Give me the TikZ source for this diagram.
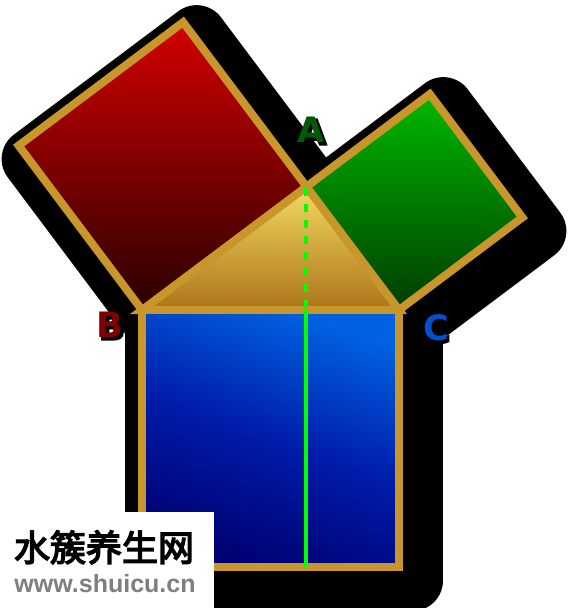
\documentclass[tikz,border=0pt]{standalone}
\usepackage{fontspec}
\setsansfont{DejaVu Sans}
\newfontfamily\glowfont[FakeBold=5]{DejaVu Sans Bold}
\newfontfamily\cjkfont[FakeBold=4]{Noto Sans CJK SC}
\newfontfamily\webfont{Liberation Sans}
\usepackage{tikz}
\usetikzlibrary{calc}
\definecolor{gold}{HTML}{C8962A}
\definecolor{redtop}{HTML}{D40000}
\definecolor{redbot}{HTML}{280000}
\definecolor{greentop}{HTML}{00B800}
\definecolor{greenbot}{HTML}{003C00}
\definecolor{bluetop}{HTML}{0062E0}
\definecolor{bluemid}{HTML}{001CAA}
\definecolor{bluebot}{HTML}{000070}
\definecolor{tritop}{HTML}{F2DA62}
\definecolor{tribot}{HTML}{AC7418}
\definecolor{altgreen}{HTML}{00FF00}
\definecolor{labA}{HTML}{005A00}
\definecolor{labB}{HTML}{800000}
\definecolor{labC}{HTML}{0050D0}
\definecolor{webgray}{HTML}{7F7F7F}
\tikzset{
  frame/.style={draw=gold, line width=8pt, line join=miter},
  blot/.style={fill=black, draw=black, line width=61pt, line join=round},
  altline/.style={draw=altgreen, line width=4pt},
  lab/.style={font=\sffamily\bfseries\fontsize{35}{35}\selectfont},
  glow/.style={font=\glowfont\fontsize{35}{35}\selectfont, text=black}
}

\begin{document}
\begin{tikzpicture}[x=1pt,y=-1pt]
  \fill[white] (0,0) rectangle (568,608);
  \useasboundingbox (0,0) rectangle (568,608);

  \coordinate (B) at (142,310);
  \coordinate (C) at (399,310);
  \coordinate (A) at ($(B)!0.8!36.87:(C)$);

  % outer corners of the three squares
  \coordinate (R1) at ($(B)!1!90:(A)$);
  \coordinate (R2) at ($(A)!1!-90:(B)$);
  \coordinate (G1) at ($(A)!1!90:(C)$);
  \coordinate (G2) at ($(C)!1!-90:(A)$);
  \coordinate (D1) at ($(C)!1!90:(B)$);
  \coordinate (D2) at ($(B)!1!-90:(C)$);
  \coordinate (H) at ($(B)!(A)!(C)$);
  \coordinate (K) at ($(D2)!(A)!(D1)$);

  % shadow
  \begin{scope}[transform canvas={xshift=13.5pt, yshift=-13.5pt}]
    \path[blot] (B)--(R1)--(R2)--(A)--cycle;
    \path[blot] (A)--(G1)--(G2)--(C)--cycle;
    \path[blot] (A)--(B)--(C)--cycle;
    \path[blot] (B)--(C)--(D1)--(D2)--cycle;
  \end{scope}

  \path[top color=tritop, bottom color=tribot] (A)--(B)--(C)--cycle;
  \draw[frame] (A)--(B)--(C)--cycle;

  \path[top color=redtop, bottom color=redbot] (B)--(R1)--(R2)--(A)--cycle;
  \draw[frame] (B)--(R1)--(R2)--(A)--cycle;
  \path[top color=greentop, bottom color=greenbot] (A)--(G1)--(G2)--(C)--cycle;
  \draw[frame] (A)--(G1)--(G2)--(C)--cycle;
  \path[top color=bluetop, bottom color=bluebot, middle color=bluemid, shading angle=-20] (B)--(C)--(D1)--(D2)--cycle;
  \draw[frame] (B)--(C)--(D1)--(D2)--cycle;

  \draw[altline, dash pattern=on 8pt off 8pt] ($(A)+(0,1)$) -- (H);
  \draw[altline] (H) -- (K);

  % labels with a dark glow
  \node[glow] (gA) at (313,132) {A};
  \node[glow] (gB) at (112,327) {B};
  \node[glow] (gC) at (438,330) {C};
  \node[lab, text=labA] (nA) at (311,130) {A};
  \node[lab, text=labB] (nB) at (110,325) {B};
  \node[lab, text=labC] (nC) at (436,328) {C};

  % watermark
  \fill[white] (0,512) rectangle (214,608);
  \node[anchor=base, font=\cjkfont\fontsize{36}{36}\selectfont] (mark) at (104,561) {水簇养生网};
  \node[anchor=base, text=webgray, font=\webfont\bfseries\fontsize{25}{25}\selectfont] (url) at (105,592) {www.shuicu.cn};
\end{tikzpicture}
\end{document}
